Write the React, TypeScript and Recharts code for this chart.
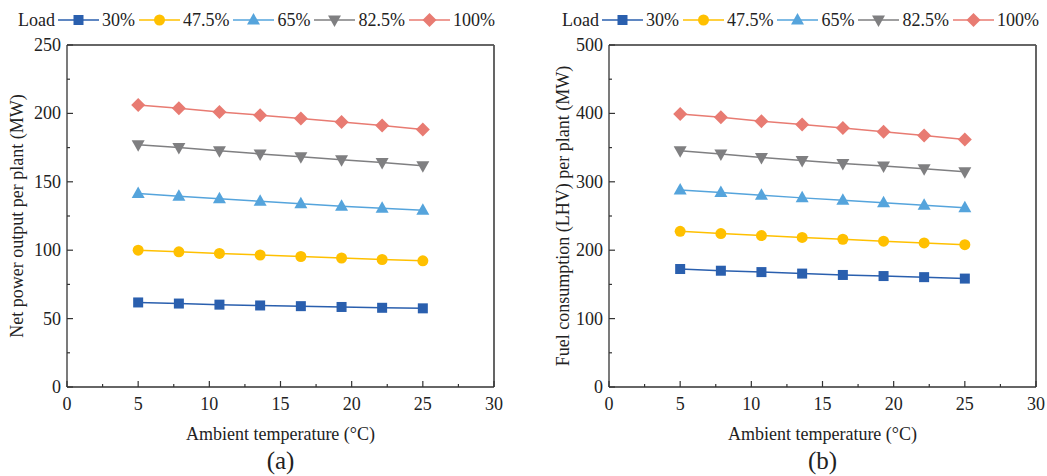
import { LineChart, Line, XAxis, YAxis, Legend, ReferenceLine, Label } from 'recharts';

const FONT = '"Liberation Serif", "Times New Roman", serif';

// ambient temperature (°C), 8 evenly spaced points
const TEMPS = [5, 7.86, 10.71, 13.57, 16.43, 19.29, 22.14, 25];
const LOADS = ['30%', '47.5%', '65%', '82.5%', '100%'];

// (a) net power output per plant (MW)
const NET_30 = [61.8, 61.0, 60.2, 59.6, 59.1, 58.5, 57.9, 57.5];
const NET_47 = [100.0, 98.8, 97.6, 96.5, 95.4, 94.3, 93.2, 92.2];
const NET_65 = [141.5, 139.5, 137.6, 135.7, 133.9, 132.2, 130.7, 129.2];
const NET_82 = [177.0, 175.0, 172.7, 170.4, 168.3, 166.1, 164.1, 161.8];
const NET_100 = [206.2, 203.7, 201.1, 198.7, 196.2, 193.7, 191.1, 188.3];

// (b) fuel consumption (LHV) per plant (MW)
const FUEL_30 = [172.5, 170.0, 168.0, 165.8, 163.8, 162.2, 160.6, 158.5];
const FUEL_47 = [227.6, 224.3, 221.4, 218.7, 216.0, 213.2, 210.6, 208.0];
const FUEL_65 = [288.0, 284.2, 280.3, 276.5, 273.0, 269.2, 265.7, 262.1];
const FUEL_82 = [345.5, 340.8, 335.5, 331.0, 326.6, 323.2, 319.2, 314.8];
const FUEL_100 = [399.3, 394.3, 388.7, 383.6, 378.6, 373.0, 367.6, 361.8];

const X_TICKS = [0, 2.5, 5, 7.5, 10, 12.5, 15, 17.5, 20, 22.5, 25, 27.5, 30];
const NET_TICKS = [0, 25, 50, 75, 100, 125, 150, 175, 200, 225, 250];
const FUEL_TICKS = [0, 50, 100, 150, 200, 250, 300, 350, 400, 450, 500];

const COLORS = ['#2A5FAE', '#FFC000', '#55A4DC', '#7F7F81', '#E87B72'];
const SHAPES = ['square', 'circle', 'triangle', 'triangleDown', 'diamond'];
const KEYS = ['s30', 's47', 's65', 's82', 's100'];

const netRows = TEMPS.map((t, i) => ({
  t,
  s30: NET_30[i],
  s47: NET_47[i],
  s65: NET_65[i],
  s82: NET_82[i],
  s100: NET_100[i],
}));

const fuelRows = TEMPS.map((t, i) => ({
  t,
  s30: FUEL_30[i],
  s47: FUEL_47[i],
  s65: FUEL_65[i],
  s82: FUEL_82[i],
  s100: FUEL_100[i],
}));

function Marker({ shape, cx, cy, color }: { shape: string; cx: number; cy: number; color: string }) {
  if (shape === 'square') {
    return <rect x={cx - 5} y={cy - 5} width={10} height={10} fill={color} />;
  }
  if (shape === 'circle') {
    return <circle cx={cx} cy={cy} r={5.5} fill={color} />;
  }
  if (shape === 'triangle') {
    return <polygon points={`${cx},${cy - 7} ${cx - 6.5},${cy + 4.5} ${cx + 6.5},${cy + 4.5}`} fill={color} />;
  }
  if (shape === 'triangleDown') {
    return <polygon points={`${cx},${cy + 7} ${cx - 6.5},${cy - 4.5} ${cx + 6.5},${cy - 4.5}`} fill={color} />;
  }
  return <polygon points={`${cx},${cy - 7} ${cx + 7},${cy} ${cx},${cy + 7} ${cx - 7},${cy}`} fill={color} />;
}

function LegendBox() {
  return (
    <div
      style={{
        display: 'flex',
        alignItems: 'center',
        fontFamily: FONT,
        fontSize: 18,
        color: '#222',
        lineHeight: '22px',
        whiteSpace: 'nowrap',
      }}
    >
      <span>Load</span>
      {LOADS.map((name, i) => (
        <span key={name} style={{ display: 'flex', alignItems: 'center' }}>
          <svg width={41} height={16} style={{ marginLeft: 3, marginRight: 3 }}>
            <line x1={0} x2={41} y1={8} y2={8} stroke={COLORS[i]} strokeWidth={1.5} />
            <Marker shape={SHAPES[i]} cx={20.5} cy={8} color={COLORS[i]} />
          </svg>
          <span style={{ marginRight: 1 }}>{name}</span>
        </span>
      ))}
    </div>
  );
}

function XTick(props: any) {
  const { x, y, payload } = props;
  const v = payload.value;
  const major = v % 5 === 0;
  return (
    <g>
      <line x1={x} x2={x} y1={y} y2={y - (major ? 6 : 3)} stroke="#333" strokeWidth={1.2} />
      {major && (
        <text x={x} y={y + 23} textAnchor="middle" fontSize={18} fontFamily={FONT} fill="#222">
          {v}
        </text>
      )}
    </g>
  );
}

function makeYTick(majorStep: number) {
  return (props: any) => {
    const { x, y, payload } = props;
    const v = payload.value;
    const major = v % majorStep === 0;
    return (
      <g>
        <line x1={x} x2={x + (major ? 6 : 3)} y1={y} y2={y} stroke="#333" strokeWidth={1.2} />
        {major && (
          <text x={x - 6} y={y + 6} textAnchor="end" fontSize={18} fontFamily={FONT} fill="#222">
            {v}
          </text>
        )}
      </g>
    );
  };
}

type PanelProps = {
  rows: any[];
  yTicks: number[];
  yMax: number;
  majorStep: number;
  yTitle: string;
  caption: string;
  width: number;
  yAxisWidth: number;
  marginRight: number;
  titleX: number;
  legendLeft: number;
};

function Panel(p: PanelProps) {
  return (
    <LineChart
      width={p.width}
      height={476}
      data={p.rows}
      margin={{ top: 45, right: p.marginRight, bottom: 0, left: 0 }}
    >
      <XAxis
        type="number"
        dataKey="t"
        domain={[0, 30]}
        ticks={X_TICKS}
        interval={0}
        tickSize={0}
        tickMargin={0}
        tickLine={false}
        tick={XTick}
        height={89}
        axisLine={{ stroke: '#333', strokeWidth: 1.3 }}
      >
        <Label
          content={({ viewBox }: any) => (
            <g fontFamily={FONT} fill="#222">
              <text x={viewBox.x + viewBox.width / 2} y={viewBox.y + 53} textAnchor="middle" fontSize={18}>
                Ambient temperature (°C)
              </text>
              <text x={viewBox.x + viewBox.width / 2} y={viewBox.y + 82} textAnchor="middle" fontSize={25}>
                {p.caption}
              </text>
            </g>
          )}
        />
      </XAxis>
      <YAxis
        type="number"
        domain={[0, p.yMax]}
        ticks={p.yTicks}
        interval={0}
        tickSize={0}
        tickMargin={0}
        tickLine={false}
        tick={makeYTick(p.majorStep)}
        width={p.yAxisWidth}
        axisLine={{ stroke: '#333', strokeWidth: 1.3 }}
      >
        <Label
          content={({ viewBox }: any) => {
            const cx = p.titleX;
            const cy = viewBox.y + viewBox.height / 2;
            return (
              <text
                x={cx}
                y={cy}
                transform={`rotate(-90, ${cx}, ${cy})`}
                textAnchor="middle"
                fontSize={18}
                fontFamily={FONT}
                fill="#222"
              >
                {p.yTitle}
              </text>
            );
          }}
        />
      </YAxis>
      <ReferenceLine y={p.yMax} stroke="#333" strokeWidth={1.3} />
      <ReferenceLine x={30} stroke="#555" strokeWidth={1.8} />
      <Legend
        verticalAlign="middle"
        align="center"
        layout="horizontal"
        wrapperStyle={{ top: 9, left: p.legendLeft, width: 'auto' }}
        content={() => <LegendBox />}
      />
      {KEYS.map((k, i) => (
        <Line
          key={k}
          dataKey={k}
          name={LOADS[i]}
          stroke={COLORS[i]}
          strokeWidth={1.5}
          isAnimationActive={false}
          dot={(d: any) => (
            <Marker key={`${k}-${d.index}`} shape={SHAPES[i]} cx={d.cx} cy={d.cy} color={COLORS[i]} />
          )}
          activeDot={false}
        />
      ))}
    </LineChart>
  );
}

export default function App() {
  return (
    <div
      style={{
        position: 'absolute',
        left: 0,
        top: 0,
        width: 1047,
        height: 476,
        background: '#fff',
        display: 'flex',
      }}
    >
      <Panel
        rows={netRows}
        yTicks={NET_TICKS}
        yMax={250}
        majorStep={50}
        yTitle="Net power output per plant (MW)"
        caption="(a)"
        width={523}
        yAxisWidth={67}
        marginRight={29}
        titleX={23}
        legendLeft={18}
      />
      <Panel
        rows={fuelRows}
        yTicks={FUEL_TICKS}
        yMax={500}
        majorStep={100}
        yTitle="Fuel consumption (LHV) per plant (MW)"
        caption="(b)"
        width={524}
        yAxisWidth={86}
        marginRight={11}
        titleX={46}
        legendLeft={39}
      />
    </div>
  );
}
